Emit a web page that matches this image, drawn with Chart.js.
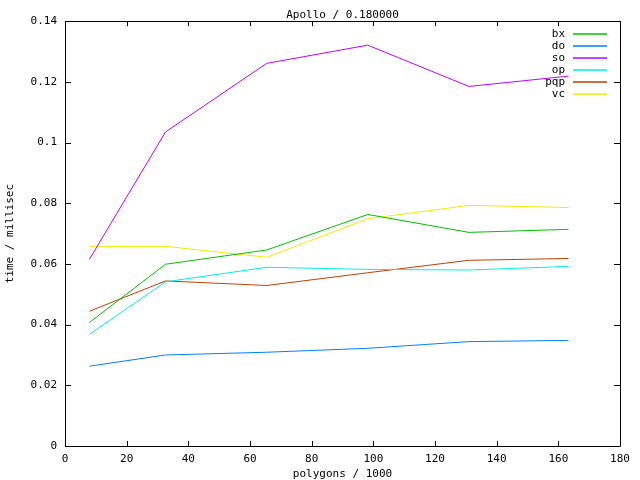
<!DOCTYPE html>
<html>
<head>
<meta charset="utf-8">
<script src="https://cdn.jsdelivr.net/npm/chart.js@4"></script>
<style>
    html, body { margin: 0; padding: 0; background: #fff; }
    canvas { display: block; }
</style>
</head>
<body>
<canvas id="chart" width="640" height="480"></canvas>
<script>
// polygons / 1000
const polygons = [7.9, 32.6, 65.4, 98.2, 131.0, 163.3];

// time / millisec, one list per method
const bx = [0.0407, 0.0599, 0.0646, 0.0763, 0.0704, 0.0714];
const doTimes = [0.0263, 0.0300, 0.0309, 0.0322, 0.0344, 0.0348];
const so = [0.0615, 0.1035, 0.1261, 0.1321, 0.1185, 0.1219];
const op = [0.0368, 0.0541, 0.0589, 0.0582, 0.0580, 0.0592];
const pqp = [0.0444, 0.0544, 0.0529, 0.0571, 0.0612, 0.0618];
const vc = [0.0658, 0.0658, 0.0622, 0.0749, 0.0793, 0.0786];

const seriesNames = ["bx", "do", "so", "op", "pqp", "vc"];
const seriesValues = [bx, doTimes, so, op, pqp, vc];
const seriesColors = ["#00c000", "#0080ff", "#c000ff", "#00eeee", "#c04000", "#eeee00"];

const FONT = "'DejaVu Sans Mono', monospace";

function toPoints(values) {
    return values.map((v, i) => ({ x: polygons[i], y: v }));
}

// gnuplot style box with inward ticks on all four sides
const framePlugin = {
    id: "frame",
    afterDatasetsDraw(chart) {
        const ctx = chart.ctx;
        const a = chart.chartArea;
        const xs = chart.scales.x;
        const ys = chart.scales.y;

        ctx.save();
        ctx.strokeStyle = "#000";
        ctx.lineWidth = 1;
        ctx.beginPath();
        ctx.rect(Math.round(a.left) + 0.5, Math.round(a.top) + 0.5,
            Math.round(a.right - a.left), Math.round(a.bottom - a.top));

        xs.ticks.forEach(t => {
            const px = Math.round(xs.getPixelForValue(t.value)) + 0.5;
            ctx.moveTo(px, a.bottom);
            ctx.lineTo(px, a.bottom - 5);
            ctx.moveTo(px, a.top);
            ctx.lineTo(px, a.top + 5);
        });

        ys.ticks.forEach(t => {
            const py = Math.round(ys.getPixelForValue(t.value)) + 0.5;
            ctx.moveTo(a.left, py);
            ctx.lineTo(a.left + 6, py);
            ctx.moveTo(a.right, py);
            ctx.lineTo(a.right - 6, py);
        });
        ctx.stroke();
        ctx.restore();
    }
};

// key in the top right corner: label first, then a line sample
const keyPlugin = {
    id: "key",
    afterDraw(chart) {
        const ctx = chart.ctx;
        const a = chart.chartArea;
        const textRight = a.right - 55;
        const lineStart = a.right - 47;
        const lineEnd = a.right - 13;

        ctx.save();
        ctx.font = "11px " + FONT;
        ctx.textAlign = "right";
        ctx.textBaseline = "middle";

        seriesNames.forEach((name, i) => {
            const y = Math.round(a.top + 12 + i * 12);
            ctx.fillStyle = "#000";
            ctx.fillText(name, textRight, y + 1);

            ctx.strokeStyle = seriesColors[i];
            ctx.lineWidth = 1.5;
            ctx.beginPath();
            ctx.moveTo(lineStart, y + 1);
            ctx.lineTo(lineEnd, y + 1);
            ctx.stroke();
        });
        ctx.restore();
    }
};

const datasets = seriesNames.map((name, i) => ({
    label: name,
    data: toPoints(seriesValues[i]),
    borderColor: seriesColors[i],
    backgroundColor: seriesColors[i],
    borderWidth: 1,
    pointRadius: 0,
    fill: false,
    tension: 0
}));

new Chart(document.getElementById("chart"), {
    type: "line",
    data: { datasets },
    options: {
        responsive: false,
        animation: false,
        layout: { padding: { top: 0, right: 20, bottom: 0, left: 0 } },
        plugins: {
            legend: { display: false },
            tooltip: { enabled: false },
            title: {
                display: true,
                text: "Apollo / 0.180000",
                fullSize: false,
                color: "#000",
                font: { family: FONT, size: 11, weight: "normal" },
                padding: { top: 9, bottom: -1 }
            }
        },
        scales: {
            x: {
                type: "linear",
                min: 0,
                max: 180,
                afterFit: s => { s.height = 34; },
                grid: { display: false, drawTicks: false, tickLength: 0 },
                border: { display: false },
                ticks: {
                    stepSize: 20,
                    color: "#000",
                    padding: 7,
                    maxRotation: 0,
                    font: { family: FONT, size: 11 }
                },
                title: {
                    display: true,
                    text: "polygons / 1000",
                    color: "#000",
                    font: { family: FONT, size: 11 },
                    padding: { top: 0, bottom: -1 }
                }
            },
            y: {
                type: "linear",
                min: 0,
                max: 0.14,
                afterFit: s => { s.width = 65; },
                grid: { display: false, drawTicks: false, tickLength: 0 },
                border: { display: false },
                ticks: {
                    stepSize: 0.02,
                    color: "#000",
                    padding: 8,
                    font: { family: FONT, size: 11 },
                    callback: v => String(+v.toFixed(2))
                },
                title: {
                    display: true,
                    text: "time / millisec",
                    color: "#000",
                    font: { family: FONT, size: 11 },
                    padding: { top: 4, bottom: 0 }
                }
            }
        }
    },
    plugins: [framePlugin, keyPlugin]
});
</script>
</body>
</html>
